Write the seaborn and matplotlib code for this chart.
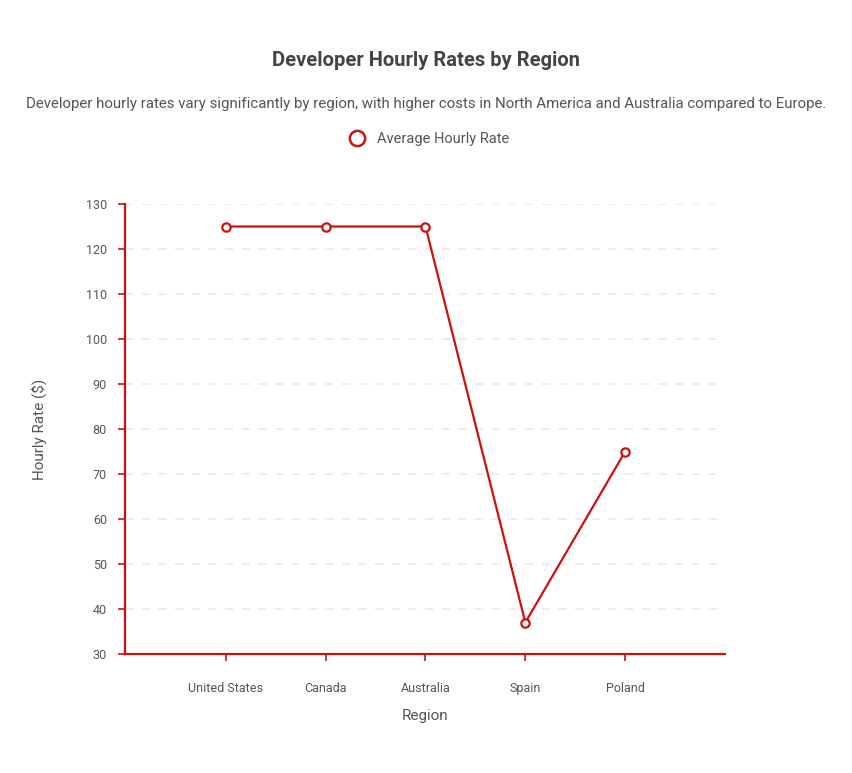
import pandas as pd
import matplotlib
matplotlib.use("Agg")
import matplotlib.pyplot as plt
import seaborn as sns

sns.set_style("white")
plt.rcParams["font.family"] = ["Roboto", "DejaVu Sans"]

regions = ["United States", "Canada", "Australia", "Spain", "Poland"]
rates = [125, 125, 125, 37, 75]
yticks = list(range(30, 131, 10))

RED = "#cc1111"
df = pd.DataFrame({"Region": regions, "Rate": rates, "x": range(len(regions))})

fig = plt.figure(figsize=(8.52, 7.73), dpi=100)
ax = fig.add_axes([125 / 852, 119 / 773, 600 / 852, 450 / 773])

for y in yticks[1:]:
    ax.axhline(y, color="#fbe3e6", lw=1.2, ls=(0, (5, 5)), zorder=0)

sns.lineplot(data=df, x="x", y="Rate", ax=ax, color=RED, lw=1.6,
             marker="o", markersize=6, markerfacecolor="white",
             markeredgecolor=RED, markeredgewidth=1.6, legend=False)

ax.set_xlim(-1.01, 5)
ax.set_ylim(30, 130)
ax.set_xticks(df["x"], regions)
ax.set_yticks(yticks)
ax.tick_params(axis="both", colors=RED, length=5, width=1.2, labelsize=9,
               labelcolor="#555555", bottom=True, left=True, direction="out")
ax.tick_params(axis="x", pad=15)
ax.tick_params(axis="y", pad=8)
for s in ["top", "right"]:
    ax.spines[s].set_visible(False)
for s in ["left", "bottom"]:
    ax.spines[s].set_color(RED)
    ax.spines[s].set_linewidth(1.6)

ax.set_xlabel("Region", fontsize=11, color="#555555", labelpad=10)
ax.set_ylabel("Hourly Rate ($)", fontsize=11, color="#555555", labelpad=28)

fig.text(0.5, 1 - 60 / 773, "Developer Hourly Rates by Region", ha="center",
         va="center", fontsize=14.5, fontweight="bold", color="#444444")
fig.text(0.5, 1 - 104 / 773,
         "Developer hourly rates vary significantly by region, with higher costs in North America and Australia compared to Europe.",
         ha="center", va="center", fontsize=10.8, color="#555555")

h, = ax.plot([], [], marker="o", ls="none", markersize=11, markerfacecolor="white",
             markeredgecolor=RED, markeredgewidth=1.8)
fig.legend([h], ["Average Hourly Rate"], loc="center", bbox_to_anchor=(0.5, 1 - 139 / 773),
           frameon=False, fontsize=10.5, labelcolor="#555555", handletextpad=0.4)

fig.savefig("out.png", dpi=100, facecolor="white")
